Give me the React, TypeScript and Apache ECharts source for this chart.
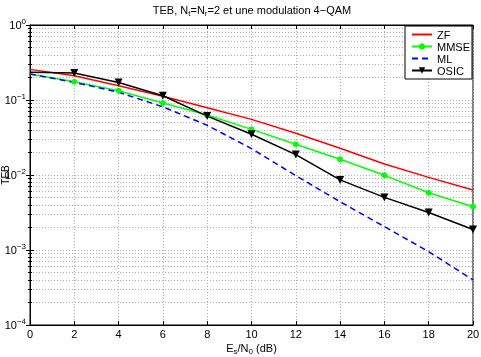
import React, { useEffect, useRef } from 'react';
import * as echarts from 'echarts';

const snr = [0, 2, 4, 6, 8, 10, 12, 14, 16, 18, 20];
const zf = [0.256, 0.211, 0.155, 0.112, 0.079, 0.0552, 0.036, 0.0227, 0.014, 0.0093, 0.0063];
const mmse = [0.222, 0.175, 0.133, 0.091, 0.063, 0.0406, 0.0257, 0.0162, 0.0099, 0.0058, 0.00378];
const ml = [0.222, 0.172, 0.127, 0.081, 0.046, 0.0225, 0.0098, 0.0044, 0.00205, 0.00095, 0.0004];
const osic = [0.234, 0.229, 0.171, 0.114, 0.061, 0.0349, 0.0187, 0.0086, 0.00503, 0.00316, 0.00188];
const seriesNames = ['ZF', 'MMSE', 'ML', 'OSIC'];

const FONT = 'Liberation Sans, Arial, Helvetica, sans-serif';

function pairs(ys: number[]) {
  return snr.map((x, i) => (i === 0 ? { value: [x, ys[i]], symbol: 'none' } : [x, ys[i]]));
}

export default function App() {
  const ref = useRef<HTMLDivElement>(null);
  useEffect(() => {
    const chart = echarts.init(ref.current!, null, { renderer: 'svg' });
    const gridLine = { show: true, lineStyle: { color: '#b0b0b0', type: [1, 2], width: 1 } };
    const expLabel = (v: number) => {
      const e = Math.round(Math.log10(v));
      return `{b|10}{s|${e < 0 ? '\u2212' + -e : e}}`;
    };
    const labelRich = {
      b: { fontSize: 11, fontFamily: FONT, color: '#000' },
      s: { fontSize: 8, fontFamily: FONT, color: '#000', padding: [0, 0, 8, 0] },
    };
    chart.setOption({
      animation: false,
      textStyle: { fontFamily: FONT },
      grid: {
        left: 30, right: 8, top: 25, bottom: 32,
        containLabel: false, outerBoundsMode: 'none',
        show: true, borderColor: '#000', borderWidth: 1, backgroundColor: '#fff',
      },
      graphic: [
        {
          type: 'text',
          x: 252,
          y: 3,
          style: {
            text: 'TEB, N{sub|t}=N{sub|r}=2 et une modulation 4\u2212QAM',
            textAlign: 'center',
            fontSize: 11,
            fontFamily: FONT,
            fill: '#000',
            rich: { sub: { fontSize: 8, fontFamily: FONT, padding: [6, 0, 0, 0] } },
          },
        },
      ],
      legend: {
        data: [
          { name: seriesNames[0], itemStyle: { opacity: 0 } },
          { name: seriesNames[1] },
          { name: seriesNames[2], itemStyle: { opacity: 0 } },
          { name: seriesNames[3] },
        ],
        orient: 'vertical',
        left: 405,
        top: 26,
        padding: [3, 2, 3, 6],
        itemGap: 1,
        itemWidth: 20,
        itemHeight: 8,
        borderColor: '#000',
        borderWidth: 1,
        borderRadius: 0,
        backgroundColor: '#fff',
        textStyle: { fontSize: 11, fontFamily: FONT, color: '#000', lineHeight: 11 },
      },
      xAxis: [
        {
          type: 'value',
          min: 0,
          max: 20,
          interval: 2,
          axisLine: { show: true, lineStyle: { color: '#000' } },
          axisTick: { inside: true, length: 4, lineStyle: { color: '#000' } },
          axisLabel: { fontSize: 11, color: '#000', margin: 3, fontFamily: FONT },
          splitLine: gridLine,
          name: 'E{sub|s}/N{sub|0} (dB)',
          nameLocation: 'middle',
          nameGap: 16,
          nameMoveOverlap: false,
          nameTextStyle: {
            fontSize: 11,
            color: '#000',
            fontFamily: FONT,
            rich: { sub: { fontSize: 8, fontFamily: FONT, padding: [6, 0, 0, 0] } },
          },
        },
        {
          type: 'value',
          position: 'top',
          min: 0,
          max: 20,
          interval: 2,
          axisLine: { show: true, lineStyle: { color: '#000' } },
          axisTick: { inside: true, length: 4, lineStyle: { color: '#000' } },
          axisLabel: { show: false },
          splitLine: { show: false },
        },
      ],
      yAxis: [
        {
          type: 'log',
          logBase: 10,
          min: 0.0001,
          max: 1,
          axisLine: { show: true, lineStyle: { color: '#000' } },
          axisTick: { inside: true, length: 4, lineStyle: { color: '#000' } },
          minorTick: { show: true, splitNumber: 9, length: 2, lineStyle: { color: '#000' } },
          minorSplitLine: gridLine,
          axisLabel: { formatter: expLabel, rich: labelRich, margin: 4 },
          splitLine: gridLine,
          name: 'TEB',
          nameLocation: 'middle',
          nameGap: 25,
          nameMoveOverlap: false,
          nameTextStyle: { fontSize: 10, lineHeight: 9, color: '#000', fontFamily: FONT, verticalAlign: 'middle' },
        },
        {
          type: 'log',
          logBase: 10,
          min: 0.0001,
          max: 1,
          position: 'right',
          axisLine: { show: true, lineStyle: { color: '#000' } },
          axisTick: { inside: true, length: 4, lineStyle: { color: '#000' } },
          minorTick: { show: true, splitNumber: 9, length: 2, lineStyle: { color: '#000' } },
          axisLabel: { show: false },
          splitLine: { show: false },
        },
      ],
      series: [
        {
          name: seriesNames[0],
          type: 'line',
          data: pairs(zf),
          symbol: 'none',
          color: '#ff0000',
          lineStyle: { color: '#ff0000', width: 1.5 },
        },
        {
          name: seriesNames[1],
          type: 'line',
          data: pairs(mmse),
          symbol: 'circle',
          symbolSize: 6,
          color: '#00ff00',
          itemStyle: { color: '#00ff00' },
          lineStyle: { color: '#00ff00', width: 1.5 },
        },
        {
          name: seriesNames[2],
          type: 'line',
          data: pairs(ml),
          symbol: 'none',
          color: '#0000ff',
          lineStyle: { color: '#0000ff', width: 1.5, type: [6, 4] },
        },
        {
          name: seriesNames[3],
          type: 'line',
          data: pairs(osic),
          symbol: 'triangle',
          symbolRotate: 180,
          symbolSize: 8,
          color: '#000',
          itemStyle: { color: '#000' },
          lineStyle: { color: '#000', width: 1.5 },
        },
      ],
    });
    return () => chart.dispose();
  }, []);
  return <div ref={ref} style={{ position: 'fixed', left: 0, top: 0, width: 481, height: 357 }} />;
}
